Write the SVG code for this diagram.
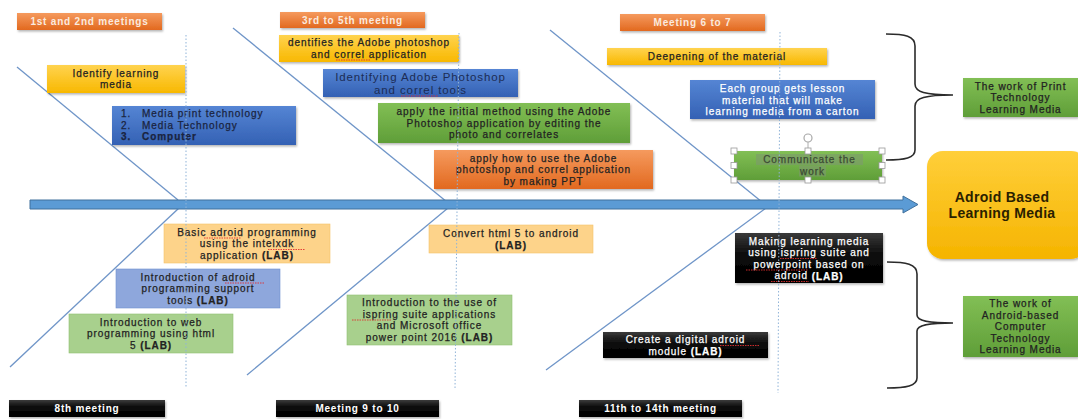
<svg xmlns="http://www.w3.org/2000/svg" width="1078" height="419" viewBox="0 0 1078 419">
<defs>
<linearGradient id="gOr" x1="0" y1="0" x2="0" y2="1"><stop offset="0" stop-color="#f59a5e"/><stop offset="1" stop-color="#e2691f"/></linearGradient>
<linearGradient id="gYe" x1="0" y1="0" x2="0" y2="1"><stop offset="0" stop-color="#ffd34f"/><stop offset="1" stop-color="#f8b800"/></linearGradient>
<linearGradient id="gBl" x1="0" y1="0" x2="0" y2="1"><stop offset="0" stop-color="#5585d4"/><stop offset="1" stop-color="#3461b4"/></linearGradient>
<linearGradient id="gGr" x1="0" y1="0" x2="0" y2="1"><stop offset="0" stop-color="#82bf55"/><stop offset="1" stop-color="#5f9e38"/></linearGradient>
<linearGradient id="gBk" x1="0" y1="0" x2="0" y2="1"><stop offset="0" stop-color="#3a3a3a"/><stop offset="0.45" stop-color="#0a0a0a"/><stop offset="1" stop-color="#000"/></linearGradient>
<linearGradient id="gBig" x1="0" y1="0" x2="0" y2="1"><stop offset="0" stop-color="#ffcf3a"/><stop offset="1" stop-color="#f5b400"/></linearGradient>
<filter id="sh" x="-10%" y="-20%" width="125%" height="150%"><feDropShadow dx="1" dy="1.5" stdDeviation="1" flood-color="#000" flood-opacity="0.3"/></filter>
</defs>
<style>
text{font-family:"Liberation Sans",Arial,sans-serif;font-size:10px;letter-spacing:0.95px;text-anchor:middle;dominant-baseline:central;stroke-width:0.25px}
.b{font-weight:700}
.d{fill:#222;stroke:#222}
.w{fill:#fff;stroke:#fff}
.nv{fill:#1a2440;stroke:#1a2440}
.hdr{fill:#fbeadf;font-weight:700;letter-spacing:0.8px}
.hw{fill:#fff;font-weight:700;letter-spacing:0.8px}
.or{fill:url(#gOr);filter:url(#sh)}
.ye{fill:url(#gYe);filter:url(#sh)}
.bl{fill:url(#gBl);filter:url(#sh)}
.gr{fill:url(#gGr);filter:url(#sh)}
.bk{fill:url(#gBk);filter:url(#sh)}
.pe{fill:#fdd38a;stroke:#f6c26a;stroke-width:0.6}
.lb{fill:#8ea7dc;stroke:#6f8fcf;stroke-width:0.6}
.lg{fill:#a8d08d;stroke:#8fbf72;stroke-width:0.6}
.fish{stroke:#6f95c8;stroke-width:1.3;fill:none}
.dot{stroke:#8fb3d8;stroke-width:1;stroke-dasharray:1.5 2;fill:none}
.brace{stroke:#2b2b2b;stroke-width:1.6;fill:none}
.sq{stroke:#e03030;stroke-width:0.9;stroke-dasharray:1.5 1;fill:none}
.hd{fill:#fff;stroke:#9a9a9a;stroke-width:0.8}
.ar{font-size:11.5px;letter-spacing:0.9px;fill:#1c2c55;stroke:none}
.big{font-size:14px;font-weight:700;letter-spacing:0.3px;fill:#2a2100;stroke:none}
</style>

<g id="connectors">
<path class="fish" d="M17,67 L178,200"/>
<path class="fish" d="M233,28 L447,202"/>
<path class="fish" d="M550,30 L762,202"/>
<path class="fish" d="M179,208 L10,367"/>
<path class="fish" d="M448,208 L247,375"/>
<path class="fish" d="M766,208 L546,370"/>
<path id="spine" d="M30,200 H903 V196 L918,204.5 L903,213 V209 H30 Z" fill="#5b9bd5" stroke="#41719c" stroke-width="1"/>
<path class="brace" d="M886,34 C905,34 915,36 915,46 L915,84 C915,92 925,95 953,95 C925,95 915,98 915,106 L915,150 C915,158 905,160 886,160"/>
<path class="brace" d="M887,262 C906,262 917,264 917,274 L917,315 C917,321 928,323 953,323 C928,323 917,325 917,331 L917,378 C917,386 906,388 887,388"/>
</g>

<g id="n-meet12"><rect class="or" x="17" y="13" width="145" height="17"/><text class="hdr" x="89.5" y="21.5">1st and 2nd meetings</text></g>
<g id="n-meet35"><rect class="or" x="280" y="12" width="145" height="16"/><text class="hdr" x="352.5" y="20">3rd to 5th meeting</text></g>
<g id="n-meet67"><rect class="or" x="620" y="14" width="145" height="17"/><text class="hdr" x="692.5" y="22.5">Meeting 6 to 7</text></g>

<g id="n-identify"><rect class="ye" x="47" y="65" width="138" height="28"/><text class="d" x="116" y="73">Identify learning</text><text class="d" x="116" y="84.5">media</text></g>
<g id="n-list"><rect class="bl" x="112" y="106" width="184" height="39"/>
<text class="nv" x="121" y="113.5" style="text-anchor:start">1.</text><text class="nv" x="142" y="113.5" style="text-anchor:start">Media print technology</text>
<text class="nv" x="121" y="125" style="text-anchor:start">2.</text><text class="nv" x="142" y="125" style="text-anchor:start">Media Technology</text>
<text class="nv b" x="121" y="136.5" style="text-anchor:start">3.</text><text class="nv b" x="142" y="136.5" style="text-anchor:start">Computer</text></g>

<g id="n-dentifies"><rect class="ye" x="279" y="35" width="180" height="27"/><text class="d" x="369" y="42.5">dentifies the Adobe photoshop</text><text class="d" x="369" y="54">and correl application</text></g>
<g id="n-idtools"><rect class="bl" x="323" y="69" width="195" height="28"/><text class="ar" x="420.5" y="76.5">Identifying Adobe Photoshop</text><text class="ar" x="420.5" y="89.5">and correl tools</text></g>
<g id="n-initial"><rect class="gr" x="378" y="103" width="252" height="40"/><text class="d" x="504" y="111.5">apply the initial method using the Adobe</text><text class="d" x="504" y="123">Photoshop application by editing the</text><text class="d" x="504" y="134.5">photo and correlates</text></g>
<g id="n-ppt"><rect class="or" x="434" y="150" width="219" height="39"/><text class="d" x="543.5" y="158">apply how to use the Adobe</text><text class="d" x="543.5" y="169.5">photoshop and correl application</text><text class="d" x="543.5" y="181">by making PPT</text></g>

<g id="n-deepening"><rect class="ye" x="607" y="48" width="220" height="17"/><text class="d" x="717" y="56.5">Deepening of the material</text></g>
<g id="n-group"><rect class="bl" x="690" y="80" width="185" height="39"/><text class="w" x="782.5" y="88.5">Each group gets lesson</text><text class="w" x="782.5" y="100">material that will make</text><text class="w" x="782.5" y="111.5">learning media from a carton</text></g>
<g id="n-communicate">
<rect class="gr" x="734" y="151" width="148" height="29"/>
<rect x="756" y="154" width="107" height="11" fill="#7d9a6e" opacity="0.6"/>
<rect x="799" y="165.5" width="27" height="11" fill="#7d9a6e" opacity="0.6"/>
<text fill="#3c4a35" stroke="#3c4a35" x="809.5" y="159.5">Communicate the</text><text fill="#3c4a35" stroke="#3c4a35" x="812.5" y="171">work</text>
<line x1="808" y1="142" x2="808" y2="151" stroke="#9a9a9a" stroke-width="0.8"/>
<circle cx="808" cy="138" r="4" fill="#fff" stroke="#a8a8a8" stroke-width="1.2"/>
<rect class="hd" x="731" y="148" width="6" height="6"/><rect class="hd" x="805" y="148" width="6" height="6"/><rect class="hd" x="879" y="148" width="6" height="6"/>
<rect class="hd" x="731" y="162.5" width="6" height="6"/><rect class="hd" x="879" y="162.5" width="6" height="6"/>
<rect class="hd" x="731" y="177" width="6" height="6"/><rect class="hd" x="805" y="177" width="6" height="6"/><rect class="hd" x="879" y="177" width="6" height="6"/>
</g>
<g id="n-printwork"><rect class="gr" x="963" y="78" width="115" height="39"/><text class="d" x="1020.5" y="86">The work of Print</text><text class="d" x="1020.5" y="97.5">Technology</text><text class="d" x="1020.5" y="109">Learning Media</text></g>
<g id="n-result"><rect x="927" y="151" width="160" height="108" rx="16" fill="url(#gBig)" filter="url(#sh)"/><text class="big" x="1002" y="196.5">Adroid Based</text><text class="big" x="1002" y="212.5">Learning Media</text></g>

<g id="n-basic"><rect class="pe" x="164" y="224" width="166" height="39"/><text class="d" x="247" y="232">Basic adroid programming</text><text class="d" x="247" y="243.5">using the intelxdk</text><text class="d" x="247" y="255">application <tspan class="b">(LAB)</tspan></text></g>
<g id="n-support"><rect class="lb" x="116" y="269" width="164" height="39"/><text class="d" x="198" y="277">Introduction of adroid</text><text class="d" x="198" y="288.5">programming support</text><text class="d" x="198" y="300">tools <tspan class="b">(LAB)</tspan></text></g>
<g id="n-web"><rect class="lg" x="69" y="314" width="164" height="39"/><text class="d" x="151" y="322">Introduction to web</text><text class="d" x="151" y="333.5">programming using html</text><text class="d" x="151" y="345">5 <tspan class="b">(LAB)</tspan></text></g>
<g id="n-convert"><rect class="pe" x="429" y="225" width="164" height="28"/><text class="d" x="511" y="233.5">Convert html 5 to android</text><text class="d b" x="511" y="245">(LAB)</text></g>
<g id="n-ispring"><rect class="lg" x="347" y="295" width="165" height="50"/><text class="d" x="429.5" y="302.5">Introduction to the use of</text><text class="d" x="429.5" y="314">ispring suite applications</text><text class="d" x="429.5" y="325.5">and Microsoft office</text><text class="d" x="429.5" y="337">power point 2016 <tspan class="b">(LAB)</tspan></text></g>
<g id="n-module"><rect class="bk" x="603" y="332" width="165" height="26"/><text class="w" x="685.5" y="339.5">Create a digital adroid</text><text class="w" x="685.5" y="351">module  <tspan class="b">(LAB)</tspan></text></g>
<g id="n-making"><rect class="bk" x="735" y="233" width="148" height="50"/><text class="w" x="809" y="241">Making learning media</text><text class="w" x="809" y="252.5">using ispring suite and</text><text class="w" x="809" y="264">powerpoint based on</text><text class="w" x="809" y="275.5">adroid <tspan class="b">(LAB)</tspan></text></g>
<g id="n-androidwork"><rect class="gr" x="963" y="296" width="115" height="61"/><text class="d" x="1020.5" y="303.5">The work of</text><text class="d" x="1020.5" y="315">Android-based</text><text class="d" x="1020.5" y="326.5">Computer</text><text class="d" x="1020.5" y="338">Technology</text><text class="d" x="1020.5" y="349.5">Learning Media</text></g>

<g id="n-meet8"><rect class="bk" x="9" y="400" width="156" height="17"/><text class="hw" x="87" y="408.5">8th meeting</text></g>
<g id="n-meet910"><rect class="bk" x="276" y="400" width="163" height="17"/><text class="hw" x="357.5" y="408.5">Meeting 9 to 10</text></g>
<g id="n-meet1114"><rect class="bk" x="579" y="400" width="163" height="17"/><text class="hw" x="660.5" y="408.5">11th to 14th meeting</text></g>

<g id="spellmarks">
<path class="sq" d="M336,60 H370"/>
<path class="sq" d="M401,96 H438"/>
<path class="sq" d="M204,238 H241"/>
<path class="sq" d="M268,249.5 H305"/>
<path class="sq" d="M225,283 H264"/>
<path class="sq" d="M352,320 H391"/>
<path class="sq" d="M780,258.5 H817"/>
<path class="sq" d="M746,270 H808"/>
<path class="sq" d="M771,281.5 H809"/>
<path class="sq" d="M720,345.5 H759"/>
</g>

<g id="guides">
<path class="dot" d="M186,35 V388"/>
<path class="dot" d="M459,33 L455,390"/>
<path class="dot" d="M780,32 L778,393"/>
</g>
</svg>
